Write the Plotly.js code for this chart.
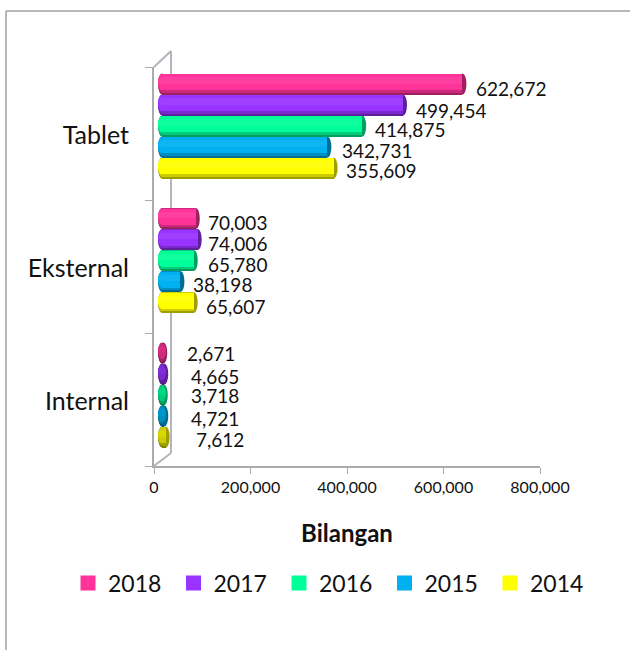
<!DOCTYPE html>
<html>
<head>
<meta charset="utf-8">
<script src="https://cdn.plot.ly/plotly-3.0.1.min.js"></script>
<style>html,body{margin:0;padding:0;background:#fff}#chart{width:630px;height:650px}</style>
</head>
<body>
<div id="chart"></div>
<script>
const categories = ['Internal', 'Eksternal', 'Tablet'];
const years = ['2018', '2017', '2016', '2015', '2014'];
const colors = ['#FF3399', '#9933FF', '#00FF99', '#00B0F0', '#FFFF00'];
const values2018 = [2671, 70003, 622672];
const values2017 = [4665, 74006, 499454];
const values2016 = [3718, 65780, 414875];
const values2015 = [4721, 38198, 342731];
const values2014 = [7612, 65607, 355609];
const xTicks = [0, 200000, 400000, 600000, 800000];
const series = [values2018, values2017, values2016, values2015, values2014];

const L = 154, R = 540, T = 67, B = 466;
const unitsPerPx = 800000 / (R - L);
const catPx = 134.5;      // spacing of the bar groups, slightly wider than the axis bands (3D perspective)
const px2 = 8;            // bars start this far right of the axis (3D depth)
const pyShift = 71;       // bar value 0 sits this far above the floor
const step = 21 / catPx;
const capR = 4 * unitsPerPx;
const capH = 10.5 / catPx;
const X = p => (p - L) / (R - L);
const Y = p => (B - p) / (B - T);

function shade(hex, f) {
  const n = parseInt(hex.slice(1), 16);
  const c = [n >> 16, (n >> 8) & 255, n & 255].map(v => Math.round(f > 1 ? v + (255 - v) * (f - 1) : v * f));
  return `rgb(${c.join(',')})`;
}
const layers = [
  {h: 1.00, dy: 0, f: 0.62},
  {h: 0.90, dy: 0.03, f: 0.80},
  {h: 0.76, dy: 0.08, f: 1.00},
  {h: 0.30, dy: 0.16, f: 1.06}
];

const traces = [{type: 'scatter', mode: 'none', x: [0, 0, 0], y: categories, xaxis: 'x', yaxis: 'y', showlegend: false, hoverinfo: 'skip'}];
const shapes = [];
const line = (x0, y0, x1, y1, color, w) => shapes.push({type: 'line', layer: 'below', xref: 'paper', yref: 'paper',
  x0: X(x0), y0: Y(y0), x1: X(x1), y1: Y(y1), line: {color, width: w}});
line(154, 466, 171, 453, '#B4B4BC', 2);
line(171, 453, 171, 51, '#B4B4BC', 2);
line(171, 51, 154, 67, '#B4B4BC', 2);
line(6, 11, 630, 11, '#A0A0A0', 1.5);
line(6, 11, 6, 650, '#A0A0A0', 1.5);

series.forEach((vals, i) => {
  const yc = categories.map((c, k) => k + (2 - i) * step);
  vals.forEach((v, k) => {
    const mute = v < 20000 ? 0.8 : 1;
    shapes.push({type: 'circle', layer: 'below', xref: 'x2', yref: 'y2', x0: v - capR, x1: v + capR,
      y0: yc[k] - capH, y1: yc[k] + capH, fillcolor: shade(colors[i], 0.62), line: {width: 0}});
    layers.forEach(l => shapes.push({type: 'circle', layer: 'below', xref: 'x2', yref: 'y2', x0: -capR, x1: capR,
      y0: yc[k] + l.dy * step - capH * l.h, y1: yc[k] + l.dy * step + capH * l.h,
      fillcolor: shade(colors[i], l.f * mute), line: {width: 0}}));
  });
  layers.forEach(l => traces.push({
    type: 'bar', orientation: 'h', x: vals, y: yc.map(y => y + l.dy * step), width: step * l.h,
    xaxis: 'x2', yaxis: 'y2', marker: {color: vals.map(v => shade(colors[i], l.f * (v < 20000 ? 0.8 : 1))), line: {width: 0}},
    name: years[i], showlegend: false, hoverinfo: 'skip'
  }));
});
// legend entries in reference order
years.forEach((y, i) => traces.push({type: 'scatter', mode: 'markers', x: [null], y: [null], xaxis: 'x2', yaxis: 'y2',
  name: y, marker: {color: colors[i], symbol: 'square', size: 15}, showlegend: true, hoverinfo: 'skip'}));

// data label placement as in the reference: left edge and vertical centre in px
const labelLeft = [[185,206,474],[189,206,414],[189,206,373],[189,191,340],[194,204,344]];
const labelY = [[353,222,88],[376,243,110],[395,264,129],[418,284,150],[439,306,170]];
const annotations = [];
series.forEach((vals, i) => vals.forEach((v, k) => {
  annotations.push({
    xref: 'x2', yref: 'y2', x: v, y: k + (2 - i) * step, text: v.toLocaleString('en-US'), showarrow: false,
    xanchor: 'left', yanchor: 'middle',
    xshift: labelLeft[i][k] - (L + px2 + v / unitsPerPx),
    yshift: (B - pyShift - k * catPx - (2 - i) * 21) - labelY[i][k],
    font: {family: 'Lato', size: 19, color: '#111'}
  });
}));

const axisGrey = '#ABABAB';
const layout = {
  width: 630, height: 650,
  margin: {l: L, r: 630 - R, t: T, b: 650 - B, pad: 0},
  paper_bgcolor: '#fff', plot_bgcolor: 'rgba(0,0,0,0)',
  barmode: 'overlay', bargap: 0,
  font: {family: 'Lato', color: '#111'},
  xaxis: {range: [0, 800000], tickvals: xTicks, ticktext: xTicks.map(v => v.toLocaleString('en-US')),
    showgrid: false, zeroline: false, showline: true, linecolor: axisGrey, linewidth: 2,
    ticks: 'outside', ticklen: 6, tickcolor: axisGrey, tickfont: {family: 'Lato', size: 16, color: '#111'},
    title: {text: '<b>Bilangan</b>', font: {family: 'Lato', size: 24, color: '#111'}, standoff: 30}},
  yaxis: {type: 'category', categoryorder: 'array', categoryarray: categories, range: [-0.5, 2.5],
    tickson: 'boundaries', showgrid: false, zeroline: false, showline: true, linecolor: axisGrey, linewidth: 2,
    ticks: 'outside', ticklen: 7, tickcolor: axisGrey, ticklabelstandoff: 18, ticklabelshift: 2, tickfont: {family: 'Lato', size: 25, color: '#111'}},
  xaxis2: {overlaying: 'x', anchor: 'y', visible: false, range: [-px2 * unitsPerPx, 800000 - px2 * unitsPerPx]},
  yaxis2: {overlaying: 'y', anchor: 'x', visible: false, range: [-pyShift / catPx, (B - T - pyShift) / catPx]},
  shapes, annotations,
  legend: {orientation: 'h', x: X(68), y: Y(583), xanchor: 'left', yanchor: 'middle', entrywidth: 60.5, entrywidthmode: 'pixels',
    traceorder: 'normal', font: {family: 'Lato', size: 23, color: '#111'}, itemwidth: 30, bgcolor: 'rgba(0,0,0,0)'},
  showlegend: true
};
Plotly.newPlot('chart', traces, layout, {displayModeBar: false, staticPlot: true});
</script>
</body>
</html>
